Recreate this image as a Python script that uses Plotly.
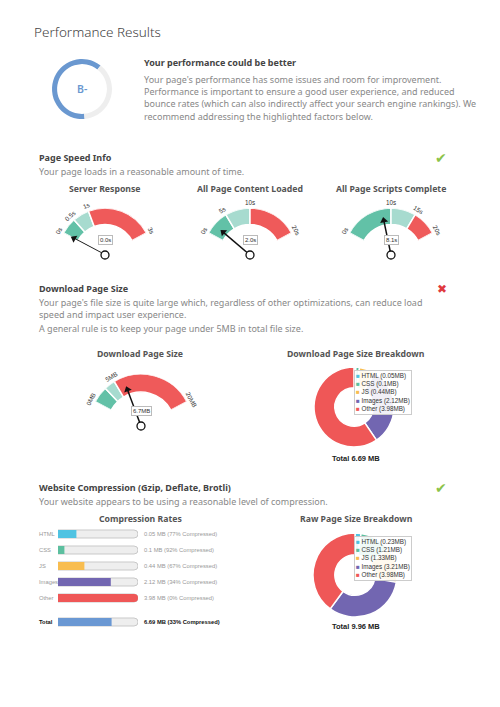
import math
import plotly.graph_objects as go

W, H = 500, 707
BODY = "Noto Sans, Open Sans, sans-serif"
CHART = "Liberation Sans, Arial, sans-serif"

# ---------------- data ----------------
grade_label = "B-"
grade_score = 62  # percent of the ring that is filled

speed_titles = ["Server Response", "All Page Content Loaded", "All Page Scripts Complete"]
server_bands = [0, 0.5, 1, 3]
server_value = 0.0
content_bands = [0, 5, 10, 20]
content_value = 2.0
scripts_bands = [0, 10, 15, 20]
scripts_value = 8.1

size_bands = [0, 3, 5, 20]
size_ticks = [0, 5, 20]
size_value = 6.7

band_colors = ["#62c1a7", "#a7dbcf", "#ef5a5a"]

file_types = ["HTML", "CSS", "JS", "Images", "Other"]
type_colors = ["#4fc3e2", "#5cbf9f", "#f8bd50", "#7266b1", "#ef5757"]
download_mb = [0.05, 0.1, 0.44, 2.12, 3.98]
raw_mb = [0.23, 1.21, 1.33, 3.21, 3.98]
compressed_pct = [77, 92, 67, 34, 0]
total_compressed_pct = 33
total_color = "#6a98d3"

fig = go.Figure()


def px(x, y):
    return x / W, 1 - y / H


def text(x, y, s, size=9, color="#888888", weight=400, anchor="left",
         family=BODY, angle=0, **kw):
    xx, yy = px(x, y)
    fig.add_annotation(x=xx, y=yy, xref="paper", yref="paper", text=s,
                       showarrow=False, xanchor=anchor, yanchor="middle",
                       textangle=angle,
                       font=dict(size=size, color=color, family=family, weight=weight),
                       **kw)


# ---------------- header ----------------
text(32, 32, "Performance Results", size=13.5, color="#444444", weight=300)

cx0, cy0, r0 = 82, 89, 30
fig.add_trace(go.Pie(values=[grade_score, 100 - grade_score], hole=0.83,
                     sort=False, direction="clockwise", rotation=175,
                     marker=dict(colors=["#6a98d0", "#eeeeee"], line=dict(width=0)),
                     textinfo="none", hoverinfo="skip", showlegend=False,
                     domain=dict(x=[(cx0 - r0) / W, (cx0 + r0) / W],
                                 y=[1 - (cy0 + r0) / H, 1 - (cy0 - r0) / H])))
text(cx0, cy0, grade_label, size=10.5, color="#6a98d0", weight=600, anchor="center")

text(142, 62, "Your performance could be better", size=9, color="#444444", weight=700)
para = ["Your page's performance has some issues and room for improvement.",
        "Performance is important to ensure a good user experience, and reduced",
        "bounce rates (which can also indirectly affect your search engine rankings). We",
        "recommend addressing the highlighted factors below."]
for i, line in enumerate(para):
    text(142, 79.3 + 12.3 * i, line)

# ---------------- page speed ----------------
text(37, 157, "Page Speed Info", color="#444444", weight=700)
text(37, 171, "Your page loads in a reasonable amount of time.")
text(441, 158, "✔", size=14, color="#8bc34a", anchor="center", family="DejaVu Sans")

HALF = 62


def add_gauge(n, cx, cy, R, bands, ticks, value, value_text, unit):
    name = "polar" if n == 1 else f"polar{n}"
    vmax = bands[-1]
    scale = 2 * HALF / vmax
    inner = 0.65
    lo, hi = bands[:-1], bands[1:]
    fig.add_trace(go.Barpolar(
        r=[1 - inner] * len(lo), base=[inner] * len(lo),
        theta=[(a + b) / 2 * scale for a, b in zip(lo, hi)],
        width=[(b - a) * scale for a, b in zip(lo, hi)],
        marker=dict(color=band_colors, line=dict(color="white", width=1.5)),
        subplot=name, hoverinfo="skip", showlegend=False))
    th = value * scale
    fig.add_trace(go.Scatterpolar(r=[0, 0.76], theta=[th, th], mode="lines",
                                  line=dict(color="#111111", width=1.5),
                                  subplot=name, cliponaxis=False,
                                  hoverinfo="skip", showlegend=False))
    fig.add_trace(go.Scatterpolar(r=[0.75], theta=[th], mode="markers",
                                  marker=dict(symbol="triangle-up", size=7,
                                              angle=th - HALF, color="#111111"),
                                  subplot=name, cliponaxis=False,
                                  hoverinfo="skip", showlegend=False))
    fig.add_trace(go.Scatterpolar(r=[0], theta=[0], mode="markers",
                                  marker=dict(symbol="circle", size=8, color="white",
                                              line=dict(color="#111111", width=1.3)),
                                  subplot=name, cliponaxis=False,
                                  hoverinfo="skip", showlegend=False))
    fig.update_layout(**{name: dict(
        domain=dict(x=[(cx - R) / W, (cx + R) / W], y=[1 - cy / H, 1 - (cy - R) / H]),
        sector=[90 - HALF, 90 + HALF], bgcolor="rgba(0,0,0,0)",
        radialaxis=dict(visible=False, range=[0, 1]),
        angularaxis=dict(visible=False, direction="clockwise", rotation=90 + HALF))})
    for t in ticks:
        a = t * scale - HALF
        rr = R + 5.5
        text(cx + rr * math.sin(math.radians(a)), cy - rr * math.cos(math.radians(a)),
             f"{t:g}{unit}", size=6.3, color="#333333", anchor="center",
             family=CHART, angle=a)
    text(cx, cy - 14.5, value_text, size=6, color="#333333", anchor="center",
         family=CHART, bordercolor="#bbbbbb", borderwidth=1, borderpad=1,
         bgcolor="white")


gauge_x = [105, 250, 391]
for title, gx in zip(speed_titles, gauge_x):
    text(gx, 189, title, size=8.7, color="#555555", weight=700, anchor="center")
add_gauge(1, gauge_x[0], 255, 47, server_bands, server_bands, server_value,
          f"{server_value:.1f}s", "s")
add_gauge(2, gauge_x[1], 255, 47, content_bands, content_bands, content_value,
          f"{content_value:.1f}s", "s")
add_gauge(3, gauge_x[2], 255, 47, scripts_bands, scripts_bands, scripts_value,
          f"{scripts_value:.1f}s", "s")

# ---------------- download page size ----------------
text(37, 288, "Download Page Size", color="#444444", weight=700)
text(37, 302.5, "Your page's file size is quite large which, regardless of other optimizations, can reduce load")
text(37, 315, "speed and impact user experience.")
text(37, 328.5, "A general rule is to keep your page under 5MB in total file size.")
text(442, 289, "✖", size=12, color="#e0393e", anchor="center", family="DejaVu Sans")

text(140, 354, "Download Page Size", size=8.7, color="#555555", weight=700, anchor="center")
text(356, 354, "Download Page Size Breakdown", size=8.7, color="#555555", weight=700, anchor="center")
add_gauge(4, 141, 426, 52, size_bands, size_ticks, size_value, f"{size_value:.1f}MB", "MB")


def add_donut(cx, cy, r, values, legend_top):
    fig.add_trace(go.Pie(values=values, labels=file_types, hole=0.48,
                         sort=False, direction="clockwise", rotation=0,
                         marker=dict(colors=type_colors, line=dict(color="white", width=1.5)),
                         textinfo="none", hoverinfo="skip", showlegend=False,
                         domain=dict(x=[(cx - r) / W, (cx + r) / W],
                                     y=[1 - (cy + r) / H, 1 - (cy - r) / H])))
    rows = [f"<span style='color:{c}'>■</span> {t} ({v:g}MB)"
            for t, v, c in zip(file_types, values, type_colors)]
    xx, yy = px(354, legend_top)
    fig.add_annotation(x=xx, y=yy, xref="paper", yref="paper", text="<br>".join(rows),
                       showarrow=False, xanchor="left", yanchor="top", align="left",
                       font=dict(size=6.3, color="#333333", family=CHART),
                       bordercolor="#cccccc", borderwidth=1, borderpad=1,
                       bgcolor="rgba(255,255,255,0.9)")
    text(356, cy + 51, f"Total {sum(values):.2f} MB", size=7.5, color="#222222",
         weight=700, anchor="center", family=CHART)


add_donut(354, 407, 40, download_mb, 370)

# ---------------- compression ----------------
text(37, 487, "Website Compression (Gzip, Deflate, Brotli)", color="#444444", weight=700)
text(37, 501, "Your website appears to be using a reasonable level of compression.")
text(441, 488, "✔", size=14, color="#8bc34a", anchor="center", family="DejaVu Sans")
text(140, 519, "Compression Rates", size=8.7, color="#555555", weight=700, anchor="center")
text(356, 519, "Raw Page Size Breakdown", size=8.7, color="#555555", weight=700, anchor="center")

fills = [1 - p / 100 for p in compressed_pct]
total_mb = sum(download_mb)
for yax, xax, cats, vals, cols in [("y", "x", file_types, fills, type_colors),
                                   ("y2", "x2", ["Total"], [1 - total_compressed_pct / 100], [total_color])]:
    fig.add_trace(go.Bar(y=cats, x=[1] * len(cats), orientation="h", xaxis=xax, yaxis=yax,
                         marker=dict(color="#eeeeee", line=dict(color="#c9c9c9", width=1),
                                     cornerradius=4),
                         cliponaxis=False, hoverinfo="skip", showlegend=False))
    fig.add_trace(go.Bar(y=cats, x=vals, orientation="h", xaxis=xax, yaxis=yax,
                         marker=dict(color=cols, line=dict(width=0), cornerradius=4),
                         cliponaxis=False, hoverinfo="skip", showlegend=False))

for cat, mb, pct in zip(file_types, download_mb, compressed_pct):
    fig.add_annotation(x=37 / W, xref="paper", y=cat, yref="y", text=cat, showarrow=False,
                       xanchor="left", yanchor="middle",
                       font=dict(size=5.8, color="#999999", family=CHART))
    fig.add_annotation(x=1, xref="x", xshift=4, y=cat, yref="y",
                       text=f"{mb:g} MB ({pct}% Compressed)", showarrow=False,
                       xanchor="left", yanchor="middle",
                       font=dict(size=5.8, color="#999999", family=CHART))
fig.add_annotation(x=37 / W, xref="paper", y="Total", yref="y2", text="Total", showarrow=False,
                   xanchor="left", yanchor="middle",
                   font=dict(size=5.8, color="#111111", family=CHART, weight=700))
fig.add_annotation(x=1, xref="x2", xshift=4, y="Total", yref="y2",
                   text=f"{total_mb:.2f} MB ({total_compressed_pct}% Compressed)",
                   showarrow=False, xanchor="left", yanchor="middle",
                   font=dict(size=5.8, color="#111111", family=CHART, weight=700))

add_donut(355, 575, 42, raw_mb, 536)

hidden = dict(visible=False, fixedrange=True)
fig.update_layout(
    width=W, height=H, margin=dict(l=0, r=0, t=0, b=0),
    paper_bgcolor="white", plot_bgcolor="rgba(0,0,0,0)",
    barmode="overlay", bargap=0.5,
    xaxis=dict(domain=[58 / W, 138 / W], range=[0, 1], **hidden),
    yaxis=dict(domain=[1 - 606 / H, 1 - 526 / H], autorange="reversed",
               categoryorder="array", categoryarray=file_types, **hidden),
    xaxis2=dict(domain=[58 / W, 138 / W], range=[0, 1], anchor="y2", **hidden),
    yaxis2=dict(domain=[1 - 630 / H, 1 - 614 / H], anchor="x2", **hidden),
    showlegend=False,
)

fig.write_html("out.html", config=dict(displayModeBar=False),
               post_script="document.body.style.margin='0';document.body.style.overflow='hidden';")
